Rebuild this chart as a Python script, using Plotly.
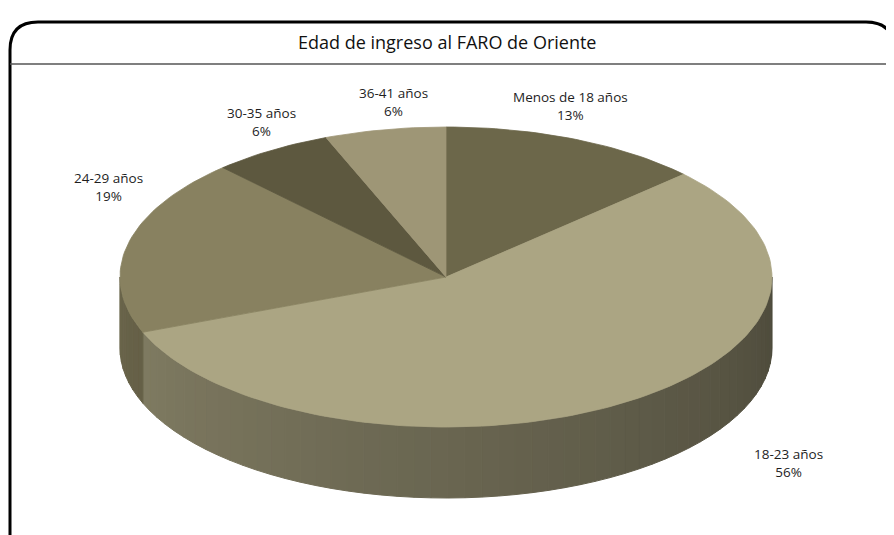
import math
import plotly.graph_objects as go

# ---------------- data ----------------
categories = ["Menos de 18 años", "18-23 años", "24-29 años", "30-35 años", "36-41 años"]
percent = [13, 56, 19, 6, 6]
title_text = "Edad de ingreso al FARO de Oriente"

# ---------------- styles ----------------
top_colors = [(108, 103, 74), (171, 165, 131), (136, 129, 96), (93, 88, 63), (158, 150, 118)]
label_pos = [(570, 106), (788, 463), (108, 187), (261, 122), (393, 102)]  # label centres (page px)

W, H = 894, 535
OFF = 8  # page body margin, so axis units == page pixels
CX, CY, A, B, DEPTH = 446, 277, 326, 150, 71


def pt(theta, dy=0.0):
    t = math.radians(theta)
    return CX + A * math.sin(t), CY - B * math.cos(t) + dy


def rgb(c):
    return "rgb(%d,%d,%d)" % tuple(int(round(v)) for v in c)


total = float(sum(percent))
bounds = []
acc = 0.0
for v in percent:
    a0 = acc / total * 360.0
    acc += v
    a1 = acc / total * 360.0
    bounds.append((a0, a1))

fig = go.Figure()

# side walls (front half, 90..270 deg clockwise from top)
for (a0, a1), col in zip(bounds, top_colors):
    s0, s1 = max(a0, 90.0), min(a1, 270.0)
    if s1 <= s0:
        continue
    nseg = max(1, int(math.ceil((s1 - s0) / 3.0)))
    for k in range(nseg):
        t0 = s0 + (s1 - s0) * k / nseg
        t1 = s0 + (s1 - s0) * (k + 1) / nseg
        tm = 0.5 * (t0 + t1)
        f = 0.45 + 0.33 * (tm - 90.0) / 180.0
        c = tuple(v * f for v in col)
        ts = [t0 + (t1 - t0) * j / 4 for j in range(5)]
        xs, ys = [], []
        for t in ts:
            x, y = pt(t)
            xs.append(x); ys.append(y)
        for t in reversed(ts):
            x, y = pt(t, DEPTH)
            xs.append(x); ys.append(y)
        xs.append(xs[0]); ys.append(ys[0])
        fig.add_trace(go.Scatter(x=xs, y=ys, mode="lines", fill="toself",
                                 fillcolor=rgb(c), line=dict(color=rgb(c), width=1),
                                 hoverinfo="skip", showlegend=False))

# top faces
for (a0, a1), col, name, v in zip(bounds, top_colors, categories, percent):
    n = max(2, int(math.ceil((a1 - a0) / 1.5)))
    xs, ys = [CX], [CY]
    for j in range(n + 1):
        x, y = pt(a0 + (a1 - a0) * j / n)
        xs.append(x); ys.append(y)
    xs.append(CX); ys.append(CY)
    fig.add_trace(go.Scatter(x=xs, y=ys, mode="lines", fill="toself",
                             fillcolor=rgb(col), line=dict(color=rgb(col), width=0.8),
                             name=name, hoverinfo="text", text="%s: %d%%" % (name, v),
                             showlegend=False))

# labels
for name, v, (lx, ly) in zip(categories, percent, label_pos):
    fig.add_annotation(x=lx, y=ly, xref="x", yref="y", text="%s<br>%d%%" % (name, v),
                       showarrow=False, align="center",
                       font=dict(family="Open Sans", size=13.5, color="#1e1e1e"))

fig.add_annotation(x=447, y=42, xref="x", yref="y", text=title_text, showarrow=False,
                   font=dict(family="Open Sans", size=18, color="#111111"))

# frame
fig.add_shape(type="path", xref="x", yref="y",
              path="M 10,560 L 10,50 Q 10,22 38,22 L 866,22 Q 894,22 894,50 L 894,560",
              line=dict(color="black", width=3))
fig.add_shape(type="line", xref="x", yref="y", x0=10, x1=894, y0=64, y1=64,
              line=dict(color="#555555", width=1.5))

fig.update_layout(width=W, height=H, margin=dict(l=0, r=0, t=0, b=0),
                  paper_bgcolor="white", plot_bgcolor="white",
                  xaxis=dict(range=[OFF, W + OFF], visible=False, fixedrange=True),
                  yaxis=dict(range=[H + OFF, OFF], visible=False, fixedrange=True),
                  showlegend=False)

fig.write_html("out.html")
